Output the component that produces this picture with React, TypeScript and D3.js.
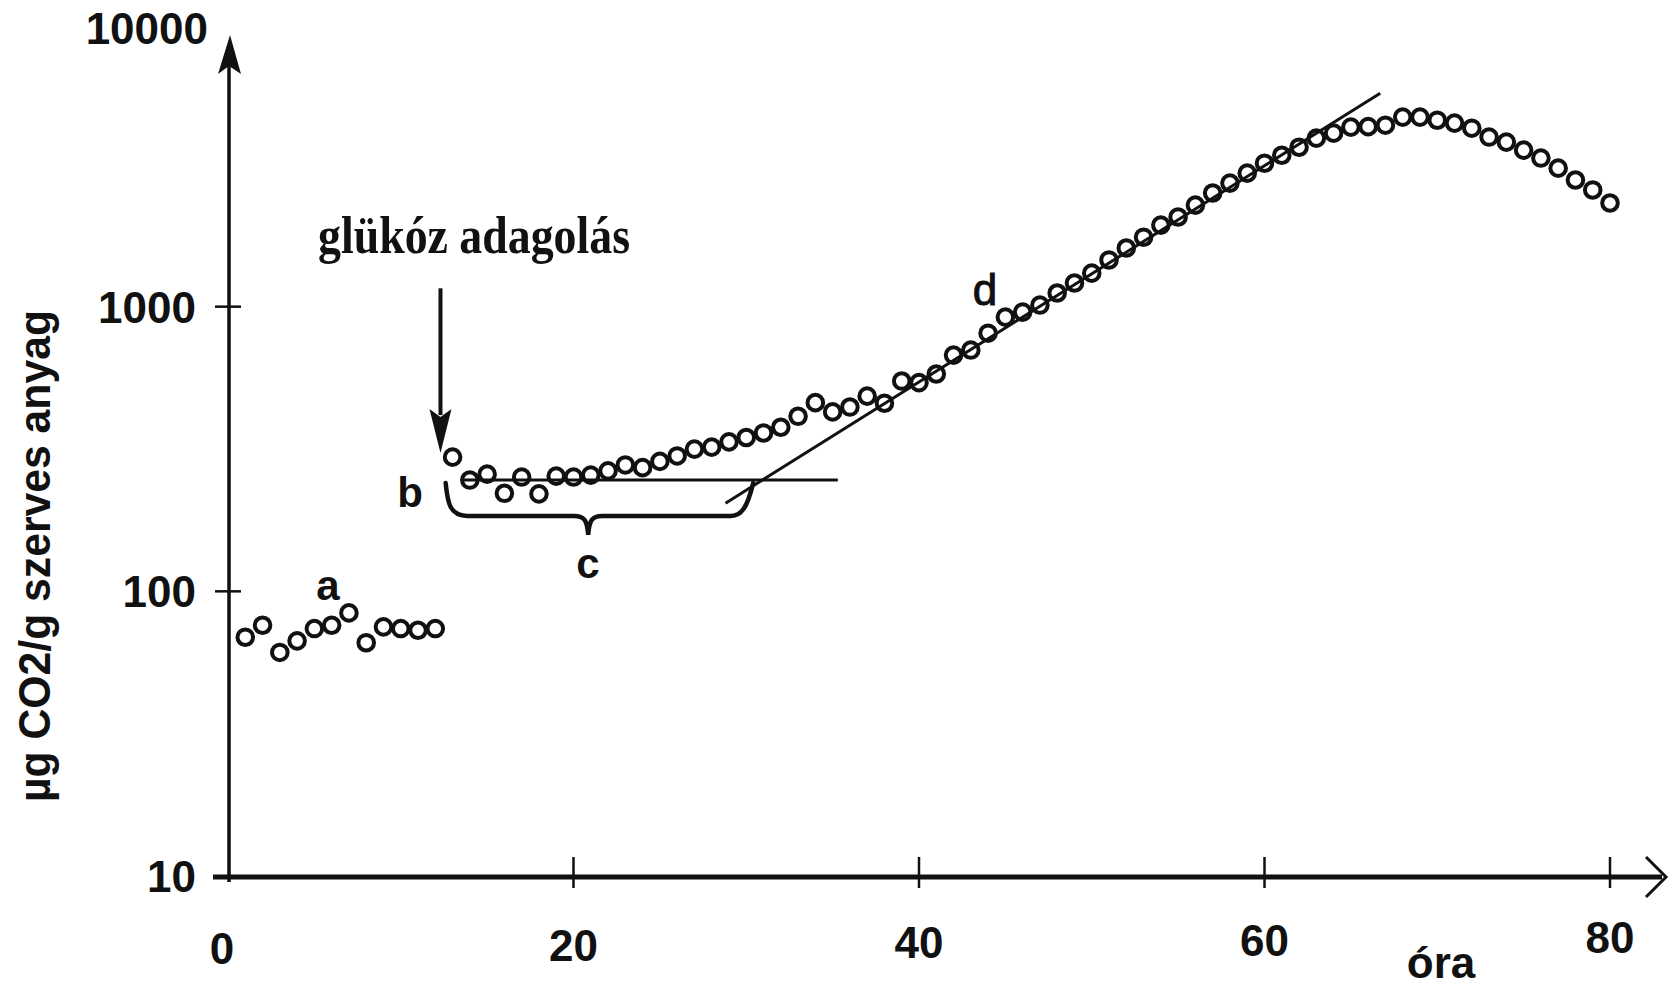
import React from "react";
import * as d3 from "d3";

// ---- data ----
const hours = [
  1, 2, 3, 4, 5, 6, 7, 8, 9, 10, 11, 12,
  13, 14, 15, 16, 17, 18, 19, 20, 21, 22, 23, 24, 25, 26, 27, 28, 29, 30,
  31, 32, 33, 34, 35, 36, 37, 38, 39, 40, 41, 42, 43, 44, 45, 46, 47, 48, 49, 50,
  51, 52, 53, 54, 55, 56, 57, 58, 59, 60, 61, 62, 63, 64, 65, 66, 67, 68, 69, 70,
  71, 72, 73, 74, 75, 76, 77, 78, 79, 80,
];
const co2 = [
  69, 76, 61, 67, 74, 76, 84, 66, 75, 74, 73, 74,
  296, 246, 258, 221, 252, 220, 254, 252, 256, 265, 278, 272, 286, 299, 316, 321, 335, 347,
  360, 377, 412, 460, 427, 444, 485, 458, 548, 541, 580, 676, 704, 807, 919, 957, 1013, 1117, 1211, 1312,
  1459, 1607, 1754, 1934, 2065, 2274, 2507, 2717, 2945, 3191, 3404, 3632, 3908, 4070, 4274, 4290, 4340, 4634, 4634, 4518,
  4415, 4236, 3943, 3786, 3548, 3327, 3066, 2786, 2570, 2313,
];
const xTicks = [0, 20, 40, 60, 80];
const yTicks = [10, 100, 1000, 10000];
const xTickLabels = ["0", "20", "40", "60", "80"];
const yTickLabels = ["10", "100", "1000", "10000"];

// annotation geometry in data units
const lineBHours = [13.6, 35.3];
const lineBValue = 246;
const tangentHours = [28.8, 66.7];
const tangentValues = [204, 5623];
const braceHours = [12.6, 20.85, 30.4]; // left, middle, right
const braceValues = [240, 184, 158]; // top, bottom, tip
const arrowHour = 12.3;
const arrowValues = [1160, 306]; // from, to

const W = 1672;
const H = 986;

export default function App() {
  const x = d3.scaleLinear().domain([0, 80]).range([228, 1610]);
  const y = d3.scaleLog().domain([10, 10000]).range([876, 22]);

  const sans = "'Liberation Sans', Arial, sans-serif";
  const serif = "'Liberation Serif', 'Times New Roman', serif";

  const xl = x(braceHours[0]);
  const xm = x(braceHours[1]);
  const xr = x(braceHours[2]);
  const yt = y(braceValues[0]);
  const yb = y(braceValues[1]);
  const ytip = y(braceValues[2]);
  const bracePath =
    `M${xl},${yt} C${xl + 2},${yt + 20} ${xl + 4},${yb} ${xl + 22},${yb} ` +
    `L${xm - 14},${yb} C${xm - 4},${yb} ${xm - 1},${yb + 4} ${xm},${ytip} ` +
    `C${xm + 1},${yb + 4} ${xm + 4},${yb} ${xm + 14},${yb} ` +
    `L${xr - 22},${yb} C${xr - 12},${yb} ${xr - 6},${yb - 8} ${xr},${yt}`;

  const ax = x(arrowHour);
  const aFrom = y(arrowValues[0]);
  const aTo = y(arrowValues[1]);

  const axisX0 = 229;
  const axisY0 = y(10);

  return (
    <svg
      width={W}
      height={H}
      viewBox={`0 0 ${W} ${H}`}
      style={{ position: "absolute", left: 0, top: 0, background: "#fff" }}
    >
      <rect width={W} height={H} fill="#fff" />

      {/* y axis */}
      <line x1={axisX0} y1={axisY0 + 6} x2={axisX0} y2={62} stroke="#111" strokeWidth={3.5} />
      <path
        d={`M${axisX0 + 1},35 L${axisX0 + 12},74 L${axisX0},66 L${axisX0 - 11},74 Z`}
        fill="#111"
      />
      {yTicks
        .filter((v) => v > 10 && v < 10000)
        .map((v) => (
          <line key={v} x1={215} x2={241} y1={y(v)} y2={y(v)} stroke="#111" strokeWidth={2.5} />
        ))}
      {yTicks.map((v, i) => (
        <text
          key={v}
          x={v === 10000 ? 208 : 196}
          y={v === 10000 ? 28 : y(v)}
          dy="0.36em"
          textAnchor="end"
          fontFamily={sans}
          fontWeight="bold"
          fontSize={44}
          fill="#111"
        >
          {yTickLabels[i]}
        </text>
      ))}

      {/* x axis */}
      <line x1={213} y1={axisY0 + 1} x2={1662} y2={axisY0 + 1} stroke="#111" strokeWidth={5} />
      <path
        d={`M1646,${axisY0 - 19} L1666,${axisY0 + 1} L1646,${axisY0 + 21}`}
        fill="none"
        stroke="#111"
        strokeWidth={3}
      />
      {xTicks
        .filter((t) => t > 0)
        .map((t) => (
          <line key={t} x1={x(t)} x2={x(t)} y1={axisY0 - 19} y2={axisY0 + 12} stroke="#111" strokeWidth={2.5} />
        ))}
      {xTicks.map((t, i) => (
        <text
          key={t}
          x={t === 0 ? x(t) - 6 : x(t)}
          y={964 - t * 0.14}
          textAnchor="middle"
          fontFamily={sans}
          fontWeight="bold"
          fontSize={44}
          fill="#111"
        >
          {xTickLabels[i]}
        </text>
      ))}
      <text x={1441} y={978} textAnchor="middle" fontFamily={sans} fontWeight="bold" fontSize={44} fill="#111">
        óra
      </text>

      {/* y axis title */}
      <text
        transform="translate(50,556) rotate(-90)"
        textAnchor="middle"
        fontFamily={sans}
        fontWeight="bold"
        fontSize={44}
        textLength={492}
        lengthAdjust="spacingAndGlyphs"
        fill="#111"
      >
        µg  CO2/g szerves anyag
      </text>

      {/* annotation lines */}
      <line
        x1={x(lineBHours[0])}
        x2={x(lineBHours[1])}
        y1={y(lineBValue)}
        y2={y(lineBValue)}
        stroke="#111"
        strokeWidth={3}
      />
      <line
        x1={x(tangentHours[0])}
        y1={y(tangentValues[0])}
        x2={x(tangentHours[1])}
        y2={y(tangentValues[1])}
        stroke="#111"
        strokeWidth={3}
      />
      <path d={bracePath} fill="none" stroke="#111" strokeWidth={4.5} strokeLinecap="round" />

      {/* glucose arrow */}
      <line x1={ax} x2={ax} y1={aFrom} y2={aTo - 38} stroke="#111" strokeWidth={4} />
      <path d={`M${ax},${aTo} L${ax + 11},${aTo - 44} L${ax},${aTo - 36} L${ax - 11},${aTo - 44} Z`} fill="#111" />
      <text
        x={318}
        y={253}
        fontFamily={serif}
        fontWeight="bold"
        fontSize={52}
        textLength={312}
        lengthAdjust="spacingAndGlyphs"
        fill="#111"
      >
        glükóz adagolás
      </text>

      {/* letters */}
      <text x={328} y={600} textAnchor="middle" fontFamily={sans} fontWeight="bold" fontSize={42} fill="#111">a</text>
      <text x={410} y={507} textAnchor="middle" fontFamily={sans} fontWeight="bold" fontSize={42} fill="#111">b</text>
      <text x={588} y={578} textAnchor="middle" fontFamily={sans} fontWeight="bold" fontSize={42} fill="#111">c</text>
      <text x={985} y={305} textAnchor="middle" fontFamily={sans} fontSize={44} fill="#111" stroke="#111" strokeWidth={1}>d</text>

      {/* data points */}
      {hours.map((h, i) => (
        <circle key={h} cx={x(h)} cy={y(co2[i])} r={7.8} fill="none" stroke="#111" strokeWidth={4} />
      ))}
    </svg>
  );
}
